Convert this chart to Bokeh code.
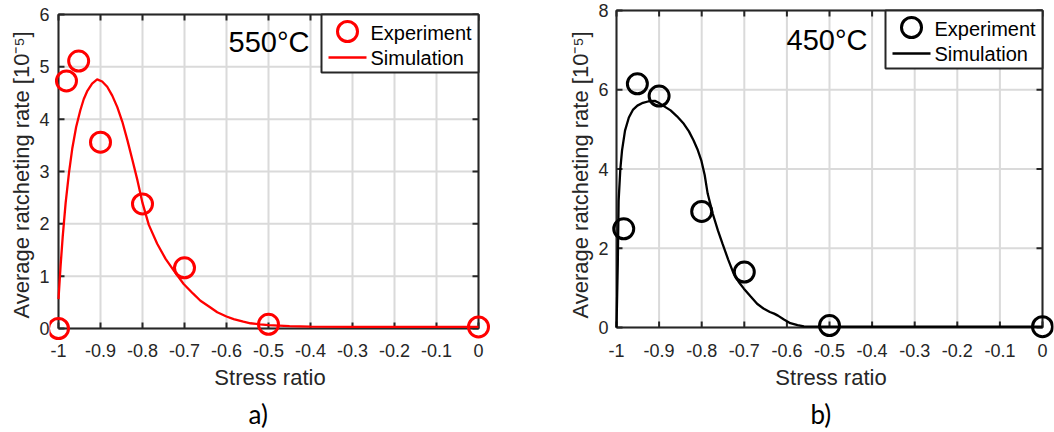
import math
from bokeh.plotting import figure
from bokeh.models import FixedTicker, Label, Range1d, Title
from bokeh.core.properties import value
from bokeh.layouts import row
from bokeh.embed import file_html
from bokeh.resources import INLINE

# ---------------- data ----------------
x_ticks = [-1.0, -0.9, -0.8, -0.7, -0.6, -0.5, -0.4, -0.3, -0.2, -0.1, 0.0]
x_tick_labels = ["-1", "-0.9", "-0.8", "-0.7", "-0.6", "-0.5", "-0.4", "-0.3", "-0.2", "-0.1", "0"]

y_ticks_a = [0, 1, 2, 3, 4, 5, 6]
y_ticks_b = [0, 2, 4, 6, 8]

legend_labels = ["Experiment", "Simulation"]

# 550 °C
exp550_x = [-1.0, -0.981, -0.952, -0.9, -0.8, -0.7, -0.5, 0.0]
exp550_y = [0.0, 4.73, 5.11, 3.56, 2.38, 1.16, 0.08, 0.03]
sim550_x = [-1.0, -0.995, -0.99, -0.983, -0.975, -0.967, -0.958, -0.948, -0.94, -0.932,
            -0.92, -0.908, -0.896, -0.884, -0.872, -0.86, -0.848, -0.836, -0.824, -0.812,
            -0.8, -0.785, -0.765, -0.745, -0.725, -0.702, -0.68, -0.662, -0.64, -0.622,
            -0.6, -0.583, -0.56, -0.543, -0.52, -0.5, -0.45, -0.4, -0.3, -0.2, -0.1, 0.0]
sim550_y = [0.56, 1.2, 1.75, 2.4, 2.98, 3.45, 3.85, 4.17, 4.38, 4.53,
            4.68, 4.76, 4.72, 4.62, 4.45, 4.23, 3.95, 3.6, 3.22, 2.83,
            2.4, 1.98, 1.62, 1.33, 1.1, 0.85, 0.67, 0.53, 0.41, 0.31,
            0.23, 0.18, 0.13, 0.10, 0.08, 0.065, 0.045, 0.035, 0.03, 0.03, 0.03, 0.03]

# 450 °C
exp450_x = [-0.983, -0.951, -0.9, -0.8, -0.7, -0.5, 0.0]
exp450_y = [2.49, 6.15, 5.84, 2.93, 1.40, 0.05, 0.02]
sim450_x = [-1.0, -0.997, -0.995, -0.991, -0.987, -0.98, -0.971, -0.961, -0.951, -0.938,
            -0.924, -0.91, -0.902, -0.888, -0.873, -0.858, -0.842, -0.83, -0.819, -0.81,
            -0.801, -0.793, -0.786, -0.774, -0.762, -0.751, -0.738, -0.725, -0.713, -0.701,
            -0.685, -0.67, -0.655, -0.64, -0.63, -0.621, -0.607, -0.592, -0.575, -0.56,
            -0.5, -0.3, 0.0]
sim450_y = [0.0, 1.6, 3.2, 4.0, 4.47, 4.97, 5.3, 5.5, 5.6, 5.67,
            5.71, 5.72, 5.68, 5.58, 5.48, 5.33, 5.14, 4.95, 4.72, 4.5,
            4.22, 3.85, 3.38, 2.87, 2.45, 2.11, 1.72, 1.36, 1.15, 0.98,
            0.78, 0.60, 0.48, 0.39, 0.35, 0.30, 0.2, 0.11, 0.06, 0.03,
            0.02, 0.02, 0.02]

DARK = "#262626"
GRID = "#dadada"
FONT = "Liberation Sans"
YLABEL = "Average ratcheting rate [10\u207b\u2075]"


def panel(fig_w, box_l, box_r, box_t, box_b, pads, yticks,
          ex, ey, sx, sy, color, temp, temp_px, caption, caption_left,
          xlab_standoff):
    """box_* : pixel edges of the axes box inside the figure; pads: (l, r, t, b)
    extra frame around the box so that markers on the box edge are not cut."""
    pl, pr, pt, pb = pads
    x0, x1 = x_ticks[0], x_ticks[-1]
    y0, y1 = yticks[0], yticks[-1]
    kx = (box_r - box_l) / (x1 - x0)      # px per x unit
    ky = (box_b - box_t) / (y1 - y0)      # px per y unit

    fw = box_r - box_l + pl + pr
    fh = box_b - box_t + pt + pb
    p = figure(frame_width=fw, frame_height=fh,
               x_range=Range1d(x0 - pl / kx, x1 + pr / kx),
               y_range=Range1d(y0 - pb / ky, y1 + pt / ky),
               output_backend="svg", toolbar_location=None,
               min_border_left=box_l - pl, min_border_right=fig_w - box_r - pr,
               min_border_top=box_t - pt, min_border_bottom=432 - box_b - pb)
    p.background_fill_color = "white"
    p.border_fill_color = "white"
    p.outline_line_color = None
    p.xgrid.visible = False
    p.ygrid.visible = False

    def X(dpx):  # pixel offset from box left -> data x
        return x0 + dpx / kx

    def Y(dpx):  # pixel offset from box top -> data y
        return y1 - dpx / ky

    # axes: only labels (box and ticks are drawn at the box edges below)
    xa = p.xaxis[0]
    xa.ticker = FixedTicker(ticks=x_ticks)
    xa.major_label_overrides = {t: l for t, l in zip(x_ticks, x_tick_labels)}
    xa.axis_label = "Stress ratio"
    xa.major_label_standoff = xlab_standoff
    xa.axis_label_standoff = 5
    ya = p.yaxis[0]
    ya.ticker = FixedTicker(ticks=yticks)
    ya.major_label_overrides = {t: str(t) for t in yticks}
    ya.axis_label = YLABEL
    ya.major_label_standoff = 0
    ya.axis_label_standoff = 2
    for ax in (xa, ya):
        ax.axis_line_color = None
        ax.major_tick_line_color = None
        ax.major_tick_in = 0
        ax.major_tick_out = 0
        ax.minor_tick_line_color = None
        ax.major_label_text_font = FONT
        ax.major_label_text_font_size = "18px"
        ax.major_label_text_color = DARK
        ax.axis_label_text_font = FONT
        ax.axis_label_text_font_size = "22px"
        ax.axis_label_text_font_style = "normal"
        ax.axis_label_text_color = DARK

    # grid
    n = len(x_ticks)
    m = len(yticks)
    p.segment(x0=x_ticks, y0=[y0] * n, x1=x_ticks, y1=[y1] * n,
              line_color=GRID, line_width=2)
    p.segment(x0=[x0] * m, y0=yticks, x1=[x1] * m, y1=yticks,
              line_color=GRID, line_width=2)

    # axes box with inward ticks on all four sides
    p.line([x0, x1, x1, x0, x0], [y0, y0, y1, y1, y0], line_color=DARK, line_width=2)
    p.ray(x=x_ticks, y=[y0] * n, length=6, length_units="screen",
          angle=math.pi / 2, line_color=DARK, line_width=2)
    p.ray(x=x_ticks, y=[y1] * n, length=6, length_units="screen",
          angle=-math.pi / 2, line_color=DARK, line_width=2)
    p.ray(x=[x0] * m, y=yticks, length=6, length_units="screen",
          angle=0, line_color=DARK, line_width=2)
    p.ray(x=[x1] * m, y=yticks, length=6, length_units="screen",
          angle=math.pi, line_color=DARK, line_width=2)

    # data
    p.line(sx, sy, line_color=color, line_width=2.3)
    p.scatter(ex, ey, marker="circle", size=20, fill_color=None,
              line_color=color, line_width=3)

    # temperature label
    p.add_layout(Label(x=X(temp_px[0]), y=Y(temp_px[1]), text=temp, text_font=FONT,
                       text_font_size="29px", text_color="black",
                       text_baseline="middle"))

    # legend (MATLAB style, box in the top-right corner)
    W = box_r - box_l
    p.quad(left=[X(W - 157)], right=[x1], top=[y1], bottom=[Y(58)],
           fill_color="white", line_color=DARK, line_width=2)
    p.scatter([X(W - 131)], [Y(17)], marker="circle", size=20, fill_color=None,
              line_color=color, line_width=3)
    p.line([X(W - 150), X(W - 112)], [Y(43), Y(43)], line_color=color, line_width=2.3)
    p.text(x=[X(W - 108)] * 2, y=[Y(18), Y(43.5)], text=legend_labels,
           text_font=value(FONT), text_font_size="20px", text_color="black",
           text_baseline="middle", text_align="left")

    # caption below the panel (offset from the frame's left edge)
    p.add_layout(Title(text=caption, align="left", offset=caption_left + pl, standoff=6,
                       text_font="Lato", text_font_size="26px",
                       text_font_style="normal", text_color="black"), "below")
    return p


# both frames span y = 8 .. 341 so the row keeps them aligned
p1 = panel(560, 58, 478, 14, 328, (9, 12, 6, 13), y_ticks_a,
           exp550_x, exp550_y, sim550_x, sim550_y,
           "#ff0000", "550\u00b0C", (170, 27.5), "a)", 190, 2)
p2 = panel(494, 56, 482, 10, 327, (8, 11, 2, 14), y_ticks_b,
           exp450_x, exp450_y, sim450_x, sim450_y,
           "#000000", "450\u00b0C", (170, 29), "b)", 194, 2)

layout = row(p1, p2)
open("out.html", "w").write(file_html(layout, INLINE))
